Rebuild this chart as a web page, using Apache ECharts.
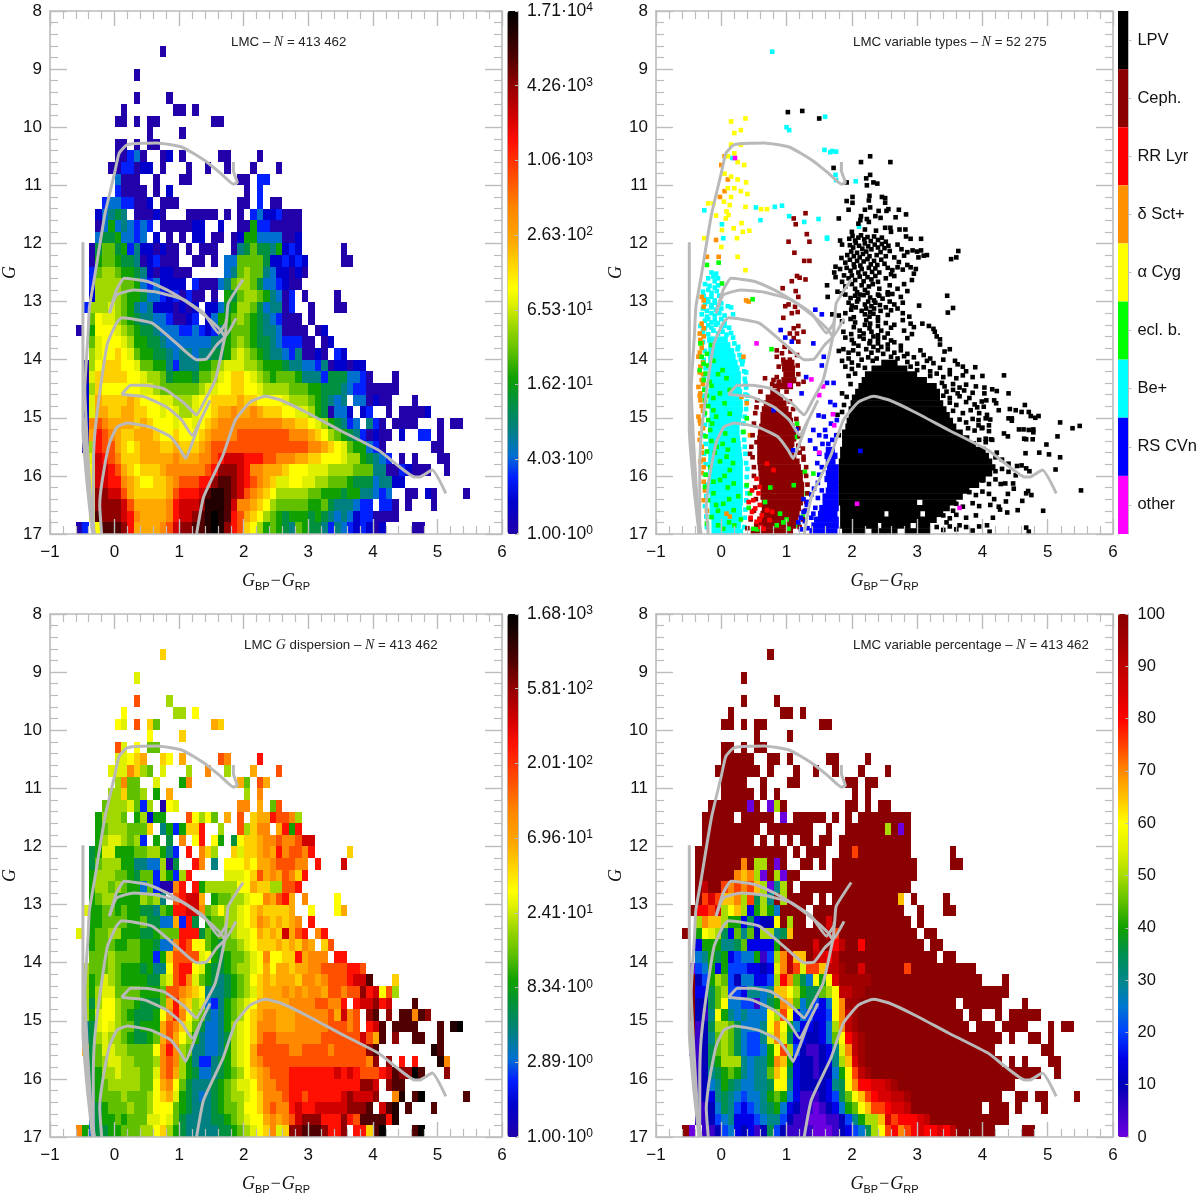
<!DOCTYPE html>
<html><head><meta charset="utf-8"><style>html,body{margin:0;padding:0;background:#fff}#c{width:1200px;height:1197px}</style>
<script src="https://cdn.jsdelivr.net/npm/echarts@6/dist/echarts.min.js"></script></head><body><div id="c"></div><script>
// Cell grid: rows G=8.0+0.2*r, columns x=-0.6+0.1*c. Letters a..u are colour-scale levels.
const countRows=["","","","...... .......a","","...... ...a","","...... ...a....a","...... .a.......a a.a","...... aa.a.aa... .....aa","...... .....a.... a","...... aa.a.aa","...... aacda..ab. a.....aa.. ..a",".....a accabb.a.. .a..a..a.. .a...a","...... daaa..a... aa.......a a.cc","...... caaaa.a.b. .......... a.c","....cd dccaab.aaa .........a a.c.aa","...bde fe.aaaba.. .aaaaa.a.a .cdbbcaaa","...adg dedcdc.aaa aabb..b..a agccaaaaa","...dff gddcd.b.a. a.bb.aa.ab ggddddaab","..afhh fgcebbabaa .a.aaa..ae fhffegbcb ......a","..aghh gffeabcaaa ..aa.a.ddh hhhfbbcbcb .....aa","..chii hggfebabba aa.....deh ihhedbbaba","..ciii ihhgdcdbbb b.caaadehi ihfddcbaa","..biii ihggfddcbc acaa.a.gfh iihgedac.a ....a",".ciiij ihgedebbba bab.bbdfgi ihfdeeac.. a...aa","..hkjj ihgfeeddca abc.bdgghi hgfedcaaa. a","a.gkkk jihgffeddd ccdcbceghh hgfeedaaaa .ab","..hjkk kjiggffedd dddddeeghi hgffedccca a.ab","..ijkk lkjhggffed eedeeffgij ihgfeedcea aba.cb",".aikll lkkjhhggec eeegghijjj iihgggfeed dceabbabb",".ajlll llkkjiihfg ggfhhijkll kjihghhhge eecfffddca ...a",".bilkk kkkkjjihhh hhhijjkkll kkjiiiihhh ggfffedcca aaaa",".bjmll llmlkkkjji iijkkllllm llkkkkjiii hgfede.dda baa...a",".bjmml lmmllkkjkj iijkklmmnm mnmlllkkjj igfaddb.bc ..a.aaaab",".bnonm mmmlmlkkkj kkjklmnnnn nnnnnnmmll kjigfecd.e ca.aaaa... a.aa",".ampon mllmmmlkkl kkklmnnnno ooooooonnn mlkihgfeca baa.b..cc. a",".aipoo mlklmmmllm lllmnooooo oooooooooo nnmlkjhggd ca.......a a","..jqpo nlllmmmmmn mmmnnopqqq pppoonnnmm llkkkjiigf edc.a.a... aa","..kqqp omlklllmnn nnnnoprrrq pnnmmmlkkk jjjiiiihhh eeaacbaaa. .a","..kqqp pnmlkkllmn ooopprssrq ponmljjkkj jiihhhgfff deebb","..krrq qomlllllmo pppqsttsrq onmlkiiiii hhgggfggee dcd..aa.ba ....a","..krrr rqommmmmnp qqqrtttsqn nmlkihhhhh gghfeeedcc .cca.a...a","..ksrr rqpnmmmmnp qqrstutspo mlkihgfggg fgfededbcc aaaa","ac.kss srpmmmmnoq rrsstutrpo lkighgfehg ffecedcbcb ab....aa"];
const dispersionRows=["","","","...... .......l","","...... ...j","","...... ...o....i.","...... .k.......i i.k","...... kj.o.lh... .....ml","...... .....k.... l","...... oj.k.hh","...... jjklm..lk. m.....on.. ..p",".....j jjnlih.j.. .i..n..i.. .m...o","...... inhh..j... gn.......m h.om",".....i ilhhi.g.m. .......... i.n","....hi iijhci.akj .........n n.m.ho","...gii ih.gibgg.. .okikh.m.o .lmmpooni","...ghi iihhhl.egc gllp..i..o ilnn.mpgp","...gij jihic.g.f. n.kp.kg.fk llmnnonnoq q","..fgjj ggghhiigec .p.nli..lj llmnmpnoon p.....l","..fhii iggeeddiaf ..pn.e.kkk lkmmnooonn .p...q","..giii hhgfhhcigc ip.....jjj klomnmonlp","..giih ihggdhcaan p.pgiiiiik kmlliioop","..ghii ggggihie.o pqqm.ghhii jkknmopm.n ....k",".jgghh ghggffehgp pqqnhikiij klmllllm.. k...km","..gghh hhgghffddm cpf.ghhiij klnmlmlmn. p","j.ghhi igggffghhh pppfhghhij jkmlmlqmop .np","..ghhh gghhggfddn pokkhgfhhi jklllmlmln m.lo","..hhhi hhhhggcglo ooojkgfghh ijknkkllpm nnn.pp",".ihhhi hgggfgeeko ppkjgffghi ijkmkmmlmm nnooooppo",".ighji hggggffijo pnjhgfefgh iklmlmmmln nmnooopqqs ...l",".igijj hhhhggghoo nmlkeeefgh ijlmmmnmnm nnmoonoorp qkoi",".ifikk ihhgfffhmp mlijdceghi jkmmmmmnnn noonnp.pqq rpq...s",".igjkk ihgfffgknp nkihedeghi klmnnmmmnn nnnomqno.r s.r.ssnsr",".efjkj ihhfgggmon ljhfddegij klnnnmmmnn nnnooono.p qs.ssss... s.tu",".efiji ihgffghmom kigeddefij klnoonnnnn nnooooooqo ms.r..ss.. s",".mfhjj iihhhhknpn iheeddegij kmooooonno ooonooooor s........t s","..fhij jiihhhinon igeccefgij kmnooooooo ooooooooon r.r.p.p... tn","..fgii jiiihhjnom igfddefghi klmnoooppp ppppqpqpoo opqsrrus.. .r","..fghi iiiihhkmnk hfeeefghij jkmnnooppp pppppppprr q.rss","..eghh hihhhiklmj gfedefghii jklnnnoppo pppppqrqqq r..nt.su.. ....s","..efgh hhihhikkkh gfeeefghhi kklnonnpqp pqqqqqrrrs .qst.s...s","..dfgg hghhhjjkjh feeeeffghi jkkmnmnoqr rrppprposs sspt","ngdffg ghhhiiklig feeeeeffgh ijklnjlrrs ssrppr.ppl su....su"];
// Percentage levels: a=0, b=5 ... u=100. A cell with no letter but counted stars in countRows reads 100.
const percentRows=["","","","","","","","","","","","","","","","","...... ....a..ak.",".......... .....a....","...... .......... .......... .....k.a","","...... .......... .......... p","...... ...o.kk.a.","...... ..onoka.ka","...s.. popopnkagk","...prp nnokphkg.k .......... .......n",".uqqpr kmnkdikif.","..konn kiidhdccm. k.....r...","..imlk hdjgjckkgh n.....sp..","..diii gghjddddi. ....r..qs. .q","..fgih ideffibeko snn.srqs..",".aefid ieeeddcdlo splppnsst. .r......p","..ceik jecffddekq ojhfmimrtt ttt","..ddhj keedggfgnn mkihhjkmss tt","..cchj mffeebfhio njfhedfmot t","..cbgm igfgfffmkp mdfeddemos t","..bchk kjhfffgmom ifddcdfkos t","..bcgj kjhfeeglol hddccdfjmq st",".abchj kjhfeefimp kecbbcdglo st","..bchi kkkgfggion idccbcdgkn rt","..bcgh ijigfggjnm hdccbccfim pst","..bcfg ihgffgghmm gdccccdghm oqqrrst","..bcdg hgfeffgiji fdbbbcdehj mnpqrrsst","..bbcf hgedefghif dcbbabcdfi jmnppqrrs","..bbce fgdddefgge cbbaaabbce gikknrpqqq rs","ua.bbc efdcdbchec bbbbaaabcd efhkmpqopq rqqrqs"];
const levelT=[0,.06,.11,.15,.2,.25,.3,.35,.4,.44,.47,.52,.56,.62,.68,.75,.8,.86,.91,.96,1];
const heatColors=["#2200aa","#0000cc","#0020ff","#0070d0","#008080","#009040","#10a000","#60c000","#a0d800","#dff000","#ffff00","#ffd000","#ffa800","#ff8800","#ff5000","#ff1000","#d00000","#900000","#500000","#200000","#000000"];
const percentColors=["#6a00e0","#3800c8","#0000b8","#0000e8","#0040ff","#0078d0","#008888","#009050","#10a000","#60c000","#a8dc00","#e0f000","#ffff00","#ffc000","#ff8800","#ff4000","#ff0000","#d80000","#c00000","#a00000","#8b0000"];
const countMax=17100, dispersionMax=1680;
const countTicks=[["1.00","0"],["4.03","0"],["1.62","1"],["6.53","1"],["2.63","2"],["1.06","3"],["4.26","3"],["1.71","4"]];
const dispersionTicks=[["1.00","0"],["2.89","0"],["8.34","0"],["2.41","1"],["6.96","1"],["2.01","2"],["5.81","2"],["1.68","3"]];
const percentTicks=[0,10,20,30,40,50,60,70,80,90,100];
const typeNames=["LPV","Ceph.","RR Lyr","δ Sct+","α Cyg","ecl. b.","Be+","RS CVn","other"];
const typeColors=["#000000","#8b0000","#ff0000","#ff9000","#ffff00","#00ff00","#00ffff","#0000ff","#ff00ff"];
// Isochrone tracks [colour, G]
const trackOld=[[-0.34,17],[-0.42,15.5],[-0.46,14.5],[-0.41,13.55],[-0.39,13.1],[-0.31,12.58],[-0.15,11.5],[0,10.79],[0.07,10.45],[0.2,10.3],[0.66,10.27],[1.04,10.34],[1.38,10.56],[1.64,10.79],[1.84,10.98],[1.9,10.95],[1.84,10.75],[1.84,10.6]];
const trackEdge=[[-0.49,11.98],[-0.49,15.2],[-0.42,16.2],[-0.34,17]];
const trackWedge=[[-0.47,15],[-0.4,16.3],[-0.31,17]];
const trackB=[[-0.08,13.2],[0.03,12.8],[0.15,12.6],[0.5,12.65],[0.81,12.8],[1.07,12.97],[1.38,13.2],[1.61,13.54],[1.73,13.35],[1.76,13.03],[1.99,12.62]];
const trackC=[[-0.08,13.2],[0.03,12.89],[0.3,12.8],[0.66,12.84],[1.07,12.97],[1.42,13.26],[1.64,13.49],[1.71,13.6],[1.88,13.29]];
const trackD=[[-0.33,17],[-0.33,16],[-0.31,15.33],[-0.23,14.57],[-0.11,13.72],[0.03,13.37],[0.11,13.28],[0.58,13.37],[0.96,13.72],[1.27,14],[1.42,13.99],[1.58,13.75],[1.71,13.6],[1.73,13.3]];
const trackE=[[0.11,14.6],[0.25,14.44],[0.46,14.44],[0.76,14.5],[1.07,14.74],[1.27,14.95],[1.38,14.74],[1.56,14.35],[1.71,13.6]];
const trackF=[[0.11,14.6],[0.46,14.64],[0.81,14.82],[1.04,15.04],[1.2,15.3],[1.33,15.04],[1.48,14.7]];
const trackG=[[-0.2,17],[-0.23,16.5],[-0.19,16.07],[-0.08,15.44],[0.04,15.16],[0.2,15.09],[0.56,15.16],[0.87,15.33],[1.02,15.55],[1.1,15.7],[1.2,15.44],[1.33,15.04]];
const trackH=[[1.27,17],[1.38,16.36],[1.68,15.64],[1.87,15.04],[2.1,14.73],[2.33,14.63],[2.56,14.69],[2.96,14.9],[3.48,15.21],[4.09,15.56],[4.34,15.78],[4.65,16.02],[4.72,16.02],[4.92,15.9],[5.13,16.3]];
// Dense parts of the variable-type panel: [G at top of strip, colour from, colour to]
const lpvBands=[[14,2.45,2.7],[14.1,2.3,2.85],[14.2,2.2,3],[14.3,2.15,3.15],[14.4,2.1,3.3],[14.5,2.05,3.35],[14.6,2,3.35],[14.7,1.98,3.4],[14.8,1.95,3.45],[14.9,1.95,3.5],[15,1.92,3.55],[15.1,1.9,3.6],[15.2,1.85,3.7],[15.3,1.85,3.8],[15.4,1.85,3.9],[15.5,1.82,4.05],[15.6,1.82,4.1],[15.7,1.8,4.15],[15.8,1.8,4.2],[15.9,1.8,4.15],[16,1.8,4.05],[16.1,1.8,3.95],[16.2,1.8,3.8],[16.3,1.8,3.7],[16.4,1.8,3],[16.4,3.08,3.6],[16.5,1.82,3.5],[16.6,1.82,2.5],[16.6,2.56,3.05],[16.6,3.12,3.4],[16.7,1.82,3.3],[16.8,1.82,2.4],[16.8,2.45,2.9],[16.8,2.98,3.2],[16.9,1.85,2.2],[16.9,2.3,2.7],[16.9,2.8,3.2]];
const cephBands=[[14,.92,1.12],[14.1,.93,1.13],[14.2,.95,1.13],[14.3,.92,1.15],[14.4,.85,1.1],[14.5,.75,.9],[14.6,.68,.95],[14.7,.65,1],[14.8,.62,1.03],[14.9,.6,1.08],[15,.6,1.1],[15.1,.58,1.12],[15.2,.56,1.15],[15.3,.55,1.15],[15.4,.55,1.12],[15.5,.55,1.1],[15.6,.55,1.15],[15.7,.55,1.2],[15.8,.56,1.22],[15.9,.57,1.25],[16,.58,1.25],[16.1,.58,1.27],[16.2,.6,1.27],[16.3,.6,1.27],[16.4,.62,1.25],[16.5,.62,1.22],[16.6,.6,1.2],[16.7,.55,1.18],[16.8,.5,1.15],[16.9,.45,1.1]];
const beBands=[[13.6,-.22,.1],[13.7,-.2,.14],[13.8,-.2,.2],[13.9,-.2,.22],[14,-.2,.25],[14.1,-.2,.28],[14.2,-.18,.3],[14.3,-.18,.3],[14.4,-.18,.3],[14.5,-.2,.32],[14.6,-.2,.32],[14.7,-.2,.33],[14.8,-.18,.33],[14.9,-.18,.32],[15,-.2,.3],[15.1,-.2,.28],[15.2,-.2,.28],[15.3,-.2,.29],[15.4,-.2,.3],[15.5,-.2,.31],[15.6,-.2,.32],[15.7,-.2,.33],[15.8,-.2,.33],[15.9,-.2,.33],[16,-.2,.33],[16.1,-.2,.33],[16.2,-.2,.33],[16.3,-.18,.33],[16.4,-.18,.33],[16.5,-.18,.32],[16.6,-.18,.32],[16.7,-.15,.31],[16.8,-.15,.3],[16.9,-.15,.28]];
const rsBands=[[15.5,1.6,1.74],[15.6,1.58,1.78],[15.7,1.6,1.75],[15.8,1.62,1.8],[15.9,1.6,1.8],[16,1.58,1.8],[16.1,1.62,1.8],[16.2,1.6,1.8],[16.3,1.55,1.8],[16.4,1.55,1.8],[16.5,1.5,1.8],[16.6,1.48,1.78],[16.7,1.42,1.8],[16.8,1.38,1.8],[16.9,1.35,1.78]];
// Individual stars as colour, G pairs
const lpvSparse=[1.02,9.74,1.24,9.72,1.5,9.85,2.28,10.5,2.14,10.6,2.59,10.6,1.72,10.7,2.28,10.82,2.22,10.88,2.33,10.95,2.39,10.97,2.23,11,1.92,10.95,2.27,11.18,2.46,11.2,2.51,11.22,2.01,11.2,2.26,11.26,1.92,11.27,2.01,11.3,2.51,11.3,2.28,11.38,2.2,11.42,2.56,11.41,2.53,11.44,2.72,11.42,1.95,11.42,2.41,11.44,2.83,11.5,2.14,11.53,2.36,11.53,2.44,11.56,1.8,11.57,2.67,11.55,2.13,11.6,2.23,11.58,2.26,11.63,2.1,11.66,2.51,11.73,2.59,11.73,2.2,11.76,2.73,11.76,2.82,11.76,2.6,11.8,2.37,11.78,2];
lpvSparse.pop();
const lpvCluster=[2,11.8,1.96,11.92,2.01,11.87,2.05,11.95,2.1,11.9,2.14,11.86,2.19,11.93,2.24,11.89,2.29,11.96,2.34,11.88,2.4,11.94,2.46,11.9,2.52,11.97,2.83,11.88,2.9,11.92,3.06,11.92,1.82,11.95,1.97,12.03,2.02,12.07,2.06,11.99,2.11,12.04,2.16,12.09,2.2,12,2.25,12.05,2.3,12.1,2.35,12.02,2.4,12.07,2.46,12.01,2.5,12.08,2.56,12.04,2.7,12.02,2.76,12.1,1.85,12.02,1.93,12.2,1.99,12.14,2.03,12.22,2.08,12.16,2.12,12.24,2.17,12.18,2.22,12.14,2.27,12.22,2.38,12.2,2.44,12.15,2.52,12.22,2.58,12.13,2.85,12.15,2.93,12.12,3,12.14,3.06,12.12,2.65,12.24,2.8,12.21,3.02,12.24,3.1,12.21,3.15,12.2,3.52,12.27,3.6,12.24,3.63,12.13,1.84,12.25,1.9,12.33,1.97,12.28,2.03,12.36,2.08,12.3,2.13,12.38,2.18,12.31,2.24,12.27,2.29,12.36,2.34,12.3,2.39,12.37,2.45,12.28,2.5,12.35,2.72,12.32,2.85,12.37,1.75,12.4,1.82,12.44,1.92,12.42,1.98,12.47,2.04,12.41,2.1,12.5,2.15,12.44,2.2,12.52,2.26,12.42,2.31,12.49,2.36,12.43,2.42,12.5,2.55,12.42,2.62,12.46,2.7,12.41,2.78,12.45,2.9,12.41,2.98,12.44,1.73,12.5,2.6,12.53,2.65,12.56,2.95,12.52,1.75,12.58,1.88,12.55,1.95,12.6,2,12.55,2.05,12.63,2.12,12.57,2.18,12.65,2.24,12.58,2.3,12.62,2.36,12.56,2.4,12.66,2.52,12.6,2.92,12.63,1.85,12.66,1.62,12.72,1.9,12.74,2,12.7,2.05,12.78,2.15,12.72,2.2,12.8,2.26,12.74,2.32,12.7,2.42,12.78,2.58,12.72,2.7,12.78,2.8,12.7,1.78,12.83,1.85,12.86,2.08,12.84,2.12,12.88,2.24,12.85,2.4,12.88,2.55,12.84,2.62,12.87,2.85,12.82,1.63,12.92,1.9,12.88,1.98,12.94,2.05,12.9,2.1,12.96,2.18,12.89,2.28,12.93,2.34,12.98,2.42,12.9,2.47,12.95,2.55,12.88,2.75,12.92,3.46,12.9,1.95,13.02,2,13.07,2.08,13,2.2,13.05,2.25,13,2.3,13.08,2.36,13.02,2.43,13.06,2.58,13,2.65,13.05,2.78,13.02,1.99,13.14,2.06,13.1,2.15,13.16,2.22,13.12,2.28,13.18,2.34,13.12,2.44,13.16,2.52,13.1,2.6,13.15,2.7,13.12,3.03,13.07,3.55,13.11,1.7,13.22,1.8,13.24,1.9,13.2,2.03,13.27,2.2,13.22,2.27,13.26,2.33,13.21,2.4,13.27,2.55,13.23,2.78,13.2,2.88,13.26,3.47,13.19,1.85,13.34,1.98,13.3,2.05,13.36,2.22,13.32,2.28,13.38,2.4,13.33,2.52,13.37,2.78,13.32,2.03,13.44,2.2,13.4,2.27,13.46,2.4,13.42,2.6,13.45,2.65,13.4,2.9,13.38,2.95,13.44,3.08,13.38,3.18,13.42,1.87,13.52,1.99,13.56,2.12,13.5,2.18,13.55,2.3,13.52,2.4,13.58,2.45,13.5,2.55,13.55,2.8,13.5,2.92,13.56,3.25,13.47,3.27,13.52,1.9,13.62,2,13.66,2.12,13.6,2.18,13.64,2.28,13.68,2.33,13.6,2.4,13.65,2.5,13.62,2.6,13.67,2.85,13.63,3.3,13.6,3.35,13.65,2.03,13.72,2.1,13.76,2.27,13.72,2.33,13.78,2.4,13.72,2.45,13.78,2.55,13.74,2.65,13.7,2.75,13.76,3.35,13.74,1.8,13.85,1.87,13.82,1.95,13.88,2.02,13.84,2.1,13.9,2.22,13.82,2.3,13.88,2.4,13.84,2.48,13.9,2.55,13.82,2.65,13.88,2.75,13.84,2.85,13.9,3.05,13.84,3.42,13.86,3.5,13.82,2.6,13.95,2.7,13.98,2.8,13.94,2.95,13.96,3.1,13.92,3.2,13.98,1.85,14.02,1.95,13.98,2,14.05,2.15,14,2.25,13.96,2.32,14.02,2.38,13.98,2.85,14.04,3,14.07,3.15,14.02,3.25,14.06,3.4,14,3.58,14.02,3.62,14.08,1.9,14.12,2,14.16,2.1,14.1,2.2,14.14,2.9,14.12,3,14.18,3.1,14.13,3.2,14.2,3.35,14.14,3.5,14.18,3.7,14.12,3.75,14.2,1.95,14.28,2.05,14.24,3.2,14.28,3.3,14.24,3.4,14.3,3.5,14.25,3.6,14.32,3.7,14.27,3.85,14.3];
const lpvEdge=[1.98,14.42,3.38,14.4,3.42,14.46,3.55,14.42,3.65,14.48,3.75,14.43,3.9,14.46,3.45,14.55,3.55,14.52,3.62,14.58,3.72,14.53,3.85,14.57,1.85,14.58,1.92,14.64,3.4,14.62,3.5,14.66,3.65,14.63,3.8,14.66,3.5,14.74,3.6,14.78,3.75,14.73,3.88,14.77,3.55,14.88,3.7,14.92,3.82,14.87,3.95,14.92,3.65,15.03,3.75,15.08,3.85,15.02,3.78,15.18,3.88,15.22,4,15.17,3.95,15.38,4.05,15.42,4.15,15.38,4.2,15.68,4.3,15.72,4.2,15.92,4.3,15.88,4,16.08,4.1,16.14,4.2,16.06,3.8,16.28,3.9,16.33,4,16.27,4.1,16.31,3.6,16.48,3.7,16.53,3.85,16.47,3.95,16.52,3.4,16.68,3.5,16.73,3.6,16.67,3.75,16.72,3.9,16.68,3.3,16.88,3.4,16.93,3.5,16.87,3.6,16.92,3.75,16.88,3.85,16.94,3.95,16.87,3.25,16.75,3.45,16.8,3.55,16.6,3.65,16.85,1.8,15.3,1.78,14.95,1.85,14.9,1.88,14.78];
const lpvOuter=[3.89,14.13,4,14.28,4.33,14.27,4.03,14.48,4.15,14.51,4.22,14.54,4.03,14.58,4.4,14.58,3.99,14.72,4.06,14.7,4.18,14.7,4.21,14.75,3.92,14.82,4.02,14.81,4.25,14.87,4.42,14.85,4.51,14.87,4.6,14.9,4.65,14.78,4.71,14.9,4.74,14.97,4.81,15,4.86,14.97,4.4,15.01,4.45,15.05,4.45,15.01,4.07,14.95,3.94,15.04,4.05,15.01,4.12,15.03,3.94,15.13,4.1,15.13,3.99,15.18,4.1,15.23,4.33,15.27,4.39,15.32,4.56,15.2,4.63,15.2,4.71,15.21,4.78,15.2,4.78,15.25,5.19,15.08,5.38,15.18,5.49,15.14,5.15,15.32,4.05,15.36,4.13,15.37,4.64,15.36,4.67,15.37,4.77,15.37,4.98,15.46,4.66,15.61,4.87,15.6,5.02,15.63,5.19,15.68,4.22,15.6,4.4,15.79,4.53,15.83,4.6,15.82,4.67,15.87,4.72,15.92,4.4,15.93,4.51,15.99,5.12,15.89,4.35,16.13,4.28,16.14,4.47,16.13,4.48,16.22,4.67,16.3,4.7,16.26,4.75,16.33,4.39,16.31,4.36,16.44,4.18,16.4,4.12,16.5,4.25,16.53,4.27,16.58,4.61,16.43,4.54,16.59,4.38,16.63,4.93,16.6,5.51,16.25,4.16,16.72,4.07,16.85,4.67,16.89,4.71,16.96,4.11,16.96];
const cephPoints=[1.11,11.57,1.29,11.48,1.14,11.67,1.31,11.84,1.03,11.97,1.35,11.97,1.12,12.16,1.27,12.3,1.35,12.3,1.16,12.56,1.08,12.65,1.2,12.59,1.29,12.62,.94,12.77,1.14,12.82,1.18,12.92,1.03,13.05,.98,13.08,1.13,13.09,1.17,13.18,1.08,13.2,.95,13.28,1.18,13.42,1.11,13.46,1.05,13.55,1.16,13.55,1.26,13.52,1.11,13.63,1.18,13.69,.97,13.78,.85,13.84,.93,13.89,1.06,13.86,1.16,13.92,.85,13.95,.95,14,1.05,14,.8,14.35,.88,14.38,1.26,14.38,.67,14.32,.54,14.82,.54,15.42,.44,15.62,1.26,15.67,1.25,15.53,.6,14.55,.55,14.7,.52,14.92,.5,15.1,.48,15.3,.46,15.5,.48,15.68,.5,15.85,.5,16,.52,16.2,.53,16.4,.5,16.6,.45,16.75,.4,16.9,1,14.55,1.05,14.72,1.1,14.85,1.15,15.02,1.18,15.18,1.2,15.32,1.18,15.48,1.2,15.6,1.26,15.72,1.3,15.85,1.3,16,1.32,16.15,1.32,16.3,1.3,16.45,1.28,16.6,1.25,16.75,1.2,16.88,.82,14.45,.85,14.3,.88,14.12,1.17,14.1,1.18,14.25,.78,14.42,1.18,14.42];
const rrPoints=[.7,15.79,.8,15.9,.54,16.05,.59,16.19,.49,16.42,.59,16.5,.7,16.59,.47,16.62,.59,16.76,.65,16.91,.47,16.25,.52,16.56,.57,16.3,.62,16.68,.54,16.79,.74,16.76,.42,16.45,.45,16.72,.6,16.88,.78,16.62];
const deltaPoints=[-.08,11.94,-.04,12.23,-.22,12.23,-.3,12.92,-.27,12.98,-.27,13.09,-.3,13.38,-.27,13.46,.38,12.98,.42,13,-.32,13.66,-.35,13.95,-.32,14.12,-.3,14.35,-.35,14.47,-.32,14.7,-.35,14.98,-.32,15.27,-.3,15.5,.34,13.95,.31,14.64,.39,14.75,.44,15.3,-.32,14.58,-.3,14.8,-.32,15.1,-.3,15.6,-.27,15.85,-.27,16.1,.08,16.65,.13,16.7,-.27,13.6,-.3,13.8,-.28,14.25,0,10.65,.05,10.5,.1,10.9,.05,11.1,-.02,11.2,-.33,13.55,-.3,13.72,-.33,13.88,-.28,14.05,-.33,14.22,-.28,14.42,-.33,14.62,-.28,14.88,-.33,15.05,-.28,15.18,-.33,15.38,-.27,15.72,-.3,15.95,-.25,16.25,-.27,16.42,-.22,16.6,-.32,15.75];
const cygPoints=[.15,9.9,.37,9.85,.2,10.1,.3,10.05,.15,10.3,.2,10.45,.1,10.5,.3,10.3,.25,10.6,.35,10.65,.05,10.8,.15,10.85,.25,10.9,.38,10.95,.1,11.05,.2,11.05,.3,11.1,.15,11.2,.4,11.15,-.2,11.31,-.12,11.31,.04,11.28,.13,11.34,.37,11.37,.61,11.41,.7,11.41,.08,11.45,.11,11.51,.07,11.57,-.08,11.52,.01,11.77,.19,11.74,.31,11.65,.33,11.8,.43,11.78,-.26,11.91,.24,11.91,0,12.06,.25,12.23,.37,12.46];
const eclPoints=[-.04,12.33,-.22,12.37,.01,12.69,.48,12.96,.77,13.82,-.32,13.72,-.3,13.95,.13,14.52,-.02,14.58,-.12,14.87,-.2,15.04,.13,14.93,.39,15.01,.34,15.24,-.27,14.07,-.33,14.18,-.17,15.21,.06,15.27,.19,15.39,-.07,15.5,.08,15.67,-.17,15.85,.13,15.9,-.02,16.07,-.25,16.19,.19,16.13,-.12,16.3,.03,16.48,.19,16.59,-.15,16.71,.03,16.91,.39,16.16,.44,16.3,.49,16.91,.75,16.2,.67,16.45,.9,16.65,1.11,16.16,1.31,16.3,1.03,16.91,1.41,15.96,1.28,15.93,1.16,15.33,1.16,15.1,-.27,14.35,-.25,14.7,-.2,14.1,-.05,14.25,-.15,14.45,.05,14.75,-.22,13.9,-.15,13.75,-.1,15.6,.1,16.2,-.05,16.6,.2,16.85,1,16.75,.85,16.85,-.26,14.52,-.22,14.62,-.12,14.66,-.2,14.8,-.25,14.92,-.08,14.98,-.14,15.1,-.24,15.32,-.15,15.4,.02,15.45,-.22,15.58,.1,15.55,-.02,15.75,-.24,15.98,.05,16,-.12,16.1,.18,15.78,-.2,16.42,.12,16.4,-.08,16.5,.26,16.35,-.22,16.82,.12,16.8,-.05,16.85,.3,16.75,.42,16.55,.55,16.92,.95,16.8,1.18,16.85,1.25,16.7,-.12,14.02,-.24,14.24,-.18,14.38,.08,14.32,.02,14.18];
const bePoints=[.78,8.7,1.04,10.05,1.59,9.82,1.7,10.41,1.58,10.39,1.76,10.91,1.67,10.43,1.76,10.42,1.75,10.82,2.06,10.93,2.11,11.71,1.62,11.92,.17,10.53,1,10,.6,11.6,1.04,11.53,-.26,11.43,.53,11.38,.82,11.37,.93,11.35,1.27,11.63,1.49,11.58,1.62,11.9,.01,11.67,.03,11.91,-.15,12.5,-.08,12.52,-.12,12.57,-.2,12.6,-.1,12.65,-.05,12.6,-.25,12.7,-.18,12.73,-.1,12.76,-.05,12.72,-.28,12.83,-.2,12.8,-.15,12.85,-.07,12.82,-.27,12.9,-.22,12.96,-.15,12.92,-.1,12.98,-.03,12.9,-.25,13.04,-.2,13,-.15,13.06,-.1,13.02,-.05,13.07,0,13.03,-.28,13.12,-.22,13.16,-.15,13.1,-.08,13.14,0,13.12,.1,13.08,.15,13.1,-.3,13.22,-.22,13.26,-.15,13.2,-.1,13.24,-.03,13.2,.05,13.24,.18,13.22,-.25,13.33,-.2,13.3,-.15,13.36,-.1,13.32,-.05,13.37,0,13.3,.05,13.35,-.32,13.42,-.25,13.46,-.2,13.41,-.15,13.45,-.08,13.4,0,13.46,.05,13.42,.12,13.45,-.28,13.52,-.2,13.56,-.12,13.5,-.05,13.55,.02,13.52,.08,13.57,.15,13.54,.25,13.82,.3,14,.33,14.02,.35,14.2,.38,14.22,.37,14.4,.4,14.62,-.28,13.7,-.25,13.85,-.27,14,-.24,14.15,-.26,14.3,-.25,14.5,-.28,14.62,-.24,14.78,-.26,14.95,-.25,15.12,-.27,15.3,-.24,15.45,-.26,15.62,-.24,15.8,-.25,15.98,-.24,16.15,-.23,16.35,-.25,16.52,-.23,16.7,-.22,16.88,.18,13.62,.2,13.72,.26,13.78,.28,13.92,.32,14.08,.36,14.33,.38,14.48,.37,14.6,.39,14.72,.38,14.85,.36,14.98,.34,15.1,.33,15.25,.35,15.38,.36,15.5,.37,15.62,.38,15.78,.4,15.88,.39,16.02,.38,16.18,.4,16.3,.38,16.42,.37,16.58,.36,16.72,.35,16.88,.3,16.95];
const rsPoints=[.91,13.49,.98,13.62,1.08,13.69,1.44,13.14,1.54,13.22,1.41,13.72,1.54,14.1,1.57,13.95,1.23,14.58,1.62,14.4,1.72,14.4,1.67,14.73,1.74,14.78,1.49,14.96,1.57,14.98,1.41,15.21,1.59,15.21,1.77,15.04,1.36,15.39,1.44,15.53,.8,14.87,1.1,15.56,1.26,16.4,1.31,16.5,1.41,16.65,1.5,15.3,1.6,15.32,1.68,15.1,1.3,14.3,1.15,15.2,2.13,15.57,1.55,15.45,1.5,15.62,1.47,15.78,1.54,15.85,1.5,15.98,1.48,16.12,1.42,16.22,1.54,16.25,1.38,16.32,1.48,16.38,1.32,16.45,1.44,16.55,1.3,16.6,1.38,16.72,1.28,16.78,1.32,16.9,1.22,16.92,1.26,16.62,1.7,15.38,1.64,15.45,1.76,15.3,1.22,16.72,1.18,16.8];
const otherPoints=[.54,13.72,1.38,14.34,1.56,14.46,1.5,14.61,1.71,14.94,1.73,15.13,1.5,15.6,2.08,16.48,1.05,14.44,3.65,16.55,.21,10.53];

const G0=8,X0=-0.6,CW=0.1,CH=0.2;
const font="'Liberation Sans',Arial,sans-serif", serif="'Liberation Serif',serif";
const axisGrey="#bcbcbc";
function hex(c){return [1,3,5].map(i=>parseInt(c.substr(i,2),16));}
function ramp(stops,cols,n){const out=[];for(let k=0;k<=n;k++){const t=k/n;let i=0;while(i<stops.length-2&&t>stops[i+1])i++;const f=(t-stops[i])/(stops[i+1]-stops[i]);const a=hex(cols[i]),b=hex(cols[i+1]);out.push('rgb('+a.map((v,j)=>Math.round(v+(b[j]-v)*f)).join(',')+')');}return out;}
function cells(rows,toValue){const d=[];rows.forEach((s,r)=>{s=s.replace(/ /g,'');for(let c=0;c<s.length;c++){if(s[c]!=='.'){d.push([X0+c*CW,G0+r*CH,toValue(s.charCodeAt(c)-97)]);}}});return d;}
function percentCells(){const d=[];countRows.forEach((s,r)=>{s=s.replace(/ /g,'');const p=(percentRows[r]||'').replace(/ /g,'');const n=Math.max(s.length,p.length);for(let c=0;c<n;c++){const pc=p[c],cc=s[c];if(pc&&pc!=='.'){d.push([X0+c*CW,G0+r*CH,(pc.charCodeAt(0)-97)*5]);}else if(cc&&cc!=='.'){d.push([X0+c*CW,G0+r*CH,100]);}}});return d;}
function pairs(a){const o=[];for(let i=0;i+1<a.length;i+=2)o.push([a[i],a[i+1]]);return o;}

const grids=[],xAxes=[],yAxes=[],series=[],visualMaps=[],titles=[];
function addTitle(text,left,top){titles.push({text,left,top,padding:0,textStyle:{fontFamily:font,fontSize:13.3,fontWeight:'normal',color:'#222',rich:{i:{fontFamily:serif,fontStyle:'italic',fontSize:14,color:'#222'}}}});}
function panel(left,top){
 const g=grids.length;
 grids.push({left,top,width:457,height:523,show:false});
 const line={show:true,onZero:false,lineStyle:{color:axisGrey,width:1.6}};
 const tick=(l)=>({show:true,inside:true,length:l,lineStyle:{color:axisGrey,width:1.4}});
 const minor=(l)=>({show:true,splitNumber:5,length:l,lineStyle:{color:axisGrey,width:1.2}});
 const xi=xAxes.length;
 const xc={type:'value',gridIndex:g,min:-1,max:6,interval:1,z:4,splitLine:{show:false},axisLine:line,axisTick:tick(15),minorTick:minor(8)};
 xAxes.push(Object.assign({},xc,{position:'bottom',axisLabel:{show:true,margin:10,fontFamily:font,fontSize:17,color:'#111',formatter:v=>v<0?'−'+(-v):''+v},
  name:'{g|G}{s|BP}{g|−G}{s|RP}',nameLocation:'middle',nameGap:36,nameTextStyle:{rich:{g:{fontFamily:serif,fontStyle:'italic',fontSize:18,color:'#111',lineHeight:22},s:{fontFamily:font,fontSize:11,color:'#111',verticalAlign:'bottom',lineHeight:22,padding:[6,0,0,0]}}}}));
 xAxes.push(Object.assign({},xc,{position:'top',axisLabel:{show:false}}));
 const yi=yAxes.length;
 const yc={type:'value',gridIndex:g,inverse:true,min:8,max:17,interval:1,z:4,splitLine:{show:false},axisLine:line,axisTick:tick(17),minorTick:minor(8)};
 yAxes.push(Object.assign({},yc,{position:'left',axisLabel:{show:true,margin:8,fontFamily:font,fontSize:17,color:'#111'},
  name:'G',nameLocation:'middle',nameGap:31,nameTextStyle:{fontFamily:serif,fontStyle:'italic',fontSize:18,color:'#111'}}));
 yAxes.push(Object.assign({},yc,{position:'right',axisLabel:{show:false}}));
 return {xi,yi};
}
function cellSeries(a,data){
 const si=series.length;
 series.push({type:'custom',xAxisIndex:a.xi,yAxisIndex:a.yi,z:2,silent:true,animation:false,data,dimensions:['x','G','level'],encode:{x:0,y:1},
  renderItem:(p,api)=>{const q=api.coord([api.value(0),api.value(1)]),e=api.coord([api.value(0)+CW,api.value(1)+CH]);const x=Math.round(q[0]),y=Math.round(q[1]);
   return {type:'rect',shape:{x,y,width:Math.round(e[0])-x,height:Math.round(e[1])-y},style:{fill:api.visual('color')}};}});
 return si;
}
function bandSeries(a,data,color,z){
 series.push({type:'custom',xAxisIndex:a.xi,yAxisIndex:a.yi,z,silent:true,animation:false,data,dimensions:['G','x0','x1'],encode:{x:[1,2],y:0},
  renderItem:(p,api)=>{const q=api.coord([api.value(1),api.value(0)]),e=api.coord([api.value(2),api.value(0)+0.1]);return {type:'rect',shape:{x:q[0],y:q[1],width:e[0]-q[0],height:e[1]-q[1]+0.5},style:{fill:color}};}});
}
function pointSeries(a,data,color,z){
 series.push({type:'scatter',xAxisIndex:a.xi,yAxisIndex:a.yi,z,silent:true,animation:false,data,symbol:'rect',symbolSize:4.6,itemStyle:{color,opacity:1}});
}
function tracks(a){
 [trackOld,trackEdge,trackWedge,trackB,trackC,trackD,trackE,trackF,trackG,trackH].forEach(t=>{
  series.push({type:'line',xAxisIndex:a.xi,yAxisIndex:a.yi,z:6,silent:true,animation:false,data:t,symbol:'none',smooth:0.15,clip:true,lineStyle:{color:'#b9b9b9',width:3,join:'round'}});
 });
}
function colorbar(left,top,si,max,colors,labels,labelFmt){
 visualMaps.push({type:'continuous',seriesIndex:si,dimension:2,min:0,max,left,top,padding:0,itemWidth:10.5,itemHeight:523,calculable:false,realtime:false,hoverLink:false,showLabel:false,text:null,inRange:{color:colors},outOfRange:{color:colors[colors.length-1]}});
 const g=grids.length;
 grids.push({left,top,width:10.5,height:523,show:false});
 xAxes.push({type:'value',gridIndex:g,min:0,max:1,show:false});
 yAxes.push({type:'value',gridIndex:g,min:0,max:labels.length-1,interval:1,position:'right',z:8,splitLine:{show:false},
  axisLine:{show:true,onZero:false,lineStyle:{color:axisGrey,width:1}},axisTick:{show:true,inside:true,length:3,lineStyle:{color:axisGrey}},
  axisLabel:{show:true,margin:9,fontFamily:font,fontSize:16.5,color:'#111',showMinLabel:true,showMaxLabel:true,formatter:labelFmt,
   rich:{e:{fontFamily:font,fontSize:12,color:'#111',verticalAlign:'top',lineHeight:18},m:{fontFamily:font,fontSize:17.5,color:'#111',lineHeight:18},p:{fontFamily:font,fontSize:16.5,color:'#111'}}}});
}
const expFmt=list=>v=>{const t=list[Math.round(v)];return '{m|'+t[0]+'·10}{e|'+t[1]+'}';};

// Panel 1
const logMaxC=Math.log10(countMax), logMaxD=Math.log10(dispersionMax);
const a1=panel(45,11);
const s1=cellSeries(a1,cells(countRows,i=>levelT[i]*logMaxC));
tracks(a1);
colorbar(507.5,11,s1,logMaxC,ramp(levelT,heatColors,200),countTicks,expFmt(countTicks));
addTitle('LMC – {i|N} = 413 462',231,35);
// Panel 2
const a2=panel(656,11);
bandSeries(a2,beBands,typeColors[6],2);
pointSeries(a2,pairs(bePoints),typeColors[6],2);
pointSeries(a2,pairs(deltaPoints),typeColors[3],3);
pointSeries(a2,pairs(cygPoints),typeColors[4],3);
pointSeries(a2,pairs(eclPoints),typeColors[5],3);
bandSeries(a2,cephBands,typeColors[1],3);
pointSeries(a2,pairs(cephPoints),typeColors[1],3);
pointSeries(a2,pairs(rrPoints),typeColors[2],3);
bandSeries(a2,rsBands,typeColors[7],3);
pointSeries(a2,pairs(rsPoints),typeColors[7],3);
bandSeries(a2,lpvBands,typeColors[0],3);
pointSeries(a2,pairs(lpvSparse),typeColors[0],3);
pointSeries(a2,pairs(lpvCluster),typeColors[0],3);
pointSeries(a2,pairs(lpvEdge),typeColors[0],3);
pointSeries(a2,pairs(lpvOuter),typeColors[0],3);
pointSeries(a2,pairs(otherPoints),typeColors[8],5);
tracks(a2);
addTitle('LMC variable types – {i|N} = 52 275',853,35);
{ // discrete key
 const g=grids.length;
 grids.push({left:1118,top:11,width:10.5,height:523,show:false});
 const xi=xAxes.length,yi=yAxes.length;
 xAxes.push({type:'value',gridIndex:g,min:0,max:1,show:false});
 yAxes.push({type:'category',gridIndex:g,inverse:true,position:'right',data:typeNames,z:8,splitLine:{show:false},axisLine:{show:true,onZero:false,lineStyle:{color:axisGrey,width:1}},
  axisTick:{show:true,inside:false,length:3,alignWithLabel:true,lineStyle:{color:axisGrey}},axisLabel:{show:true,margin:9,interval:0,fontFamily:font,fontSize:16.5,color:'#111'}});
 series.push({type:'bar',xAxisIndex:xi,yAxisIndex:yi,silent:true,animation:false,barWidth:'100%',barCategoryGap:0,data:typeColors.map(c=>({value:1,itemStyle:{color:c}}))});
}
// Panel 3
const a3=panel(45,614);
const s3=cellSeries(a3,cells(dispersionRows,i=>levelT[i]*logMaxD));
tracks(a3);
colorbar(507.5,614,s3,logMaxD,ramp(levelT,heatColors,200),dispersionTicks,expFmt(dispersionTicks));
addTitle('LMC {i|G} dispersion – {i|N} = 413 462',244,638);
// Panel 4
const a4=panel(656,614);
const s4=cellSeries(a4,percentCells());
tracks(a4);
colorbar(1118,614,s4,100,ramp(percentColors.map((c,i)=>i/20),percentColors,100),percentTicks,v=>'{p|'+percentTicks[Math.round(v)]+'}');
addTitle('LMC variable percentage – {i|N} = 413 462',853,638);

const chart=echarts.init(document.getElementById('c'),null,{renderer:'canvas',width:1200,height:1197});
chart.setOption({animation:false,backgroundColor:'#fff',title:titles,grid:grids,xAxis:xAxes,yAxis:yAxes,visualMap:visualMaps,series});
</script></body></html>
